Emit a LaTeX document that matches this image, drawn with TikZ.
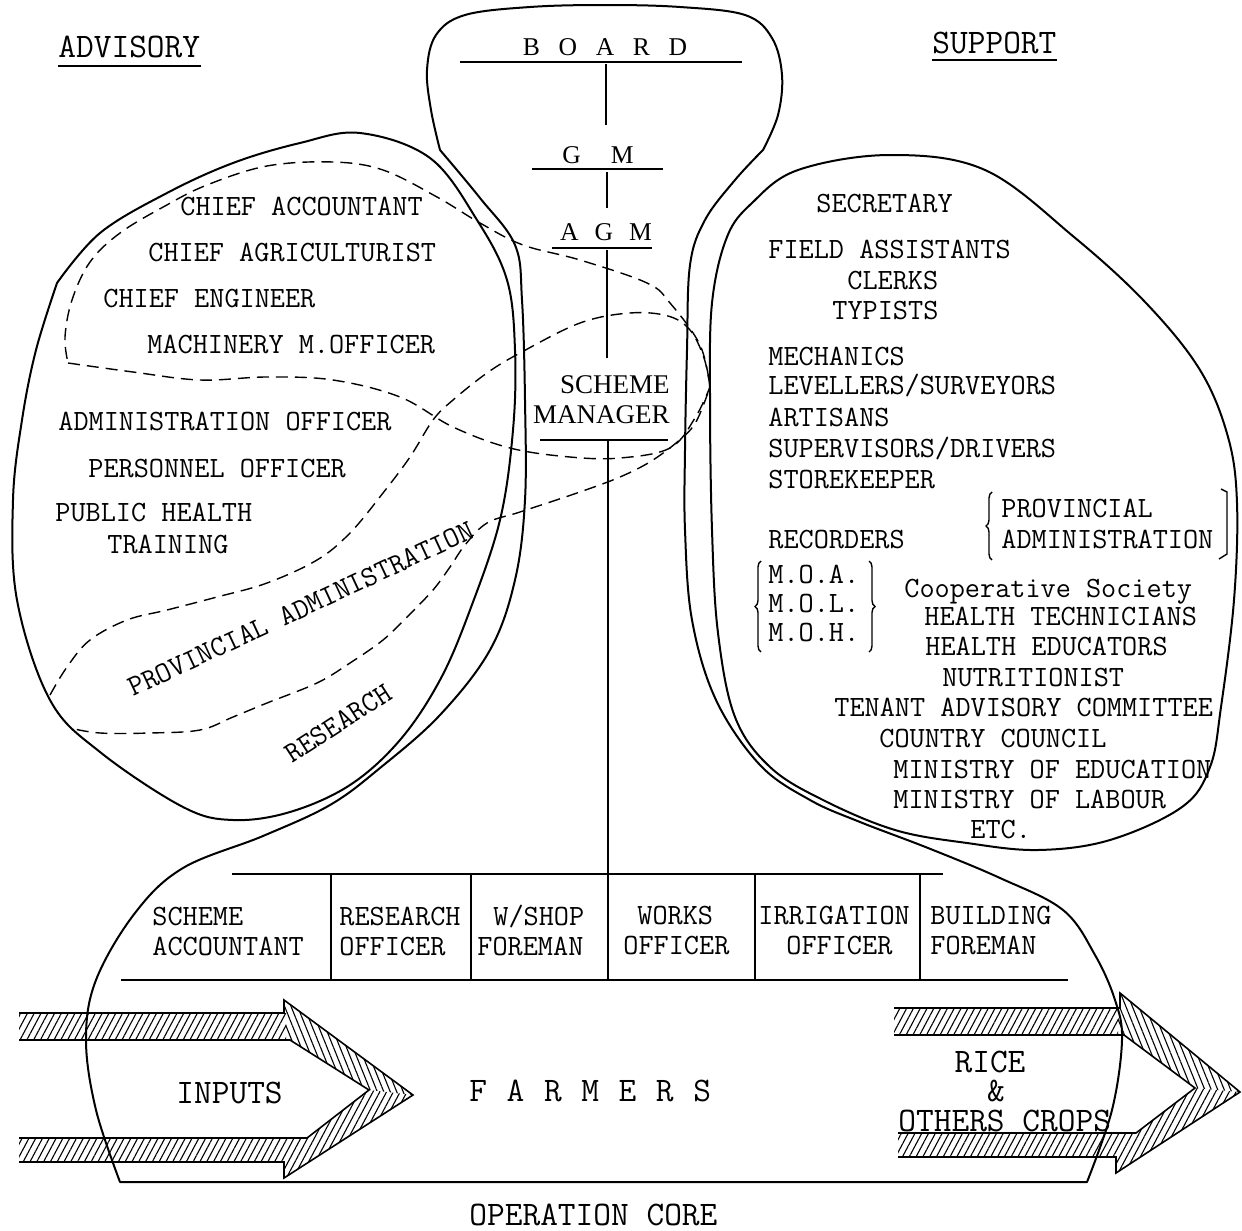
\documentclass[tikz,border=0pt]{standalone}
\usepackage{fontspec}
\usetikzlibrary{patterns.meta,decorations.pathreplacing}
\newfontfamily\srf{Liberation Serif}
\begin{document}
\begin{tikzpicture}[x=0.5pt,y=-0.5pt,
  tx/.style={font=\ttfamily\fontsize{14.7}{17}\selectfont, inner sep=0pt, anchor=base west},
  bigtx/.style={font=\ttfamily\fontsize{17.2}{20}\selectfont, inner sep=0pt, anchor=base west},
  srtx/.style={font=\srf\fontsize{12.8}{15}\selectfont, inner sep=0pt, anchor=base},
  smtx/.style={font=\srf\fontsize{13.5}{16}\selectfont, inner sep=0pt, anchor=base east},
  solidline/.style={line width=1pt, line join=round},
  ruleline/.style={line width=0.8pt},
  dashline/.style={line width=0.7pt, dash pattern=on 6pt off 3.5pt},
  hatchA/.style={pattern={Lines[angle=62,distance=3pt,line width=0.55pt]}},
  hatchB/.style={pattern={Lines[angle=-68,distance=3pt,line width=0.55pt]}},
  brc/.style={decorate, decoration={brace, amplitude=3pt}, line width=0.7pt},
]
\useasboundingbox (0,0) rectangle (1242,1231);

% ---------- hatched arrows (drawn first) ----------
% INPUTS
\path[hatchA] (19,1013) -- (286,1013) -- (286,1040) -- (19,1040) -- cycle;
\path[hatchB] (284,1000) -- (413,1095) -- (369,1090) -- (290,1040) -- (286,1040) -- (286,1013) -- (284,1013) -- cycle;
\path[hatchA] (19,1138) -- (307,1138) -- (369,1090) -- (413,1095) -- (284,1178) -- (284,1162) -- (19,1162) -- cycle;
\draw[ruleline, line join=miter] (19,1013) -- (284,1013) -- (284,1000) -- (413,1095) -- (284,1178) -- (284,1162) -- (19,1162);
\draw[ruleline, line join=miter] (19,1138) -- (307,1138) -- (369,1090) -- (290,1040) -- (19,1040);
% RICE
\path[hatchA] (894,1008) -- (1118,1008) -- (1118,1035) -- (894,1035) -- cycle;
\path[hatchB] (1120,993) -- (1240,1092) -- (1195,1088) -- (1124,1035) -- (1118,1035) -- (1118,1008) -- (1120,1008) -- cycle;
\path[hatchA] (898,1133) -- (1136,1133) -- (1195,1088) -- (1240,1092) -- (1116,1173) -- (1116,1157) -- (898,1157) -- cycle;
\draw[ruleline, line join=miter] (894,1008) -- (1120,1008) -- (1120,993) -- (1240,1092) -- (1116,1173) -- (1116,1157) -- (898,1157);
\draw[ruleline, line join=miter] (898,1133) -- (1136,1133) -- (1195,1088) -- (1124,1035) -- (894,1035);

% ---------- outer organisation outline ----------
\draw[solidline] plot[smooth, tension=0.6] coordinates {(440,150) (431,110) (427,70) (436,35) (465,15) (530,7) (605,5) (680,7) (745,15) (772,38) (782,75) (778,115) (763,150)}
 -- plot[smooth, tension=0.6] coordinates {(763,150) (735,180) (705,220) (690,265) (687,350) (685,450) (685,530) (692,620) (716,700) (760,765) (810,800) (860,822) (928,848) (1000,878) (1063,910) (1095,955) (1115,1000) (1122,1040) (1112,1110) (1087,1182)}
 -- plot[smooth, tension=0.6] coordinates {(120,1182) (96,1110) (86,1040) (96,980) (135,913) (183,868) (263,836) (330,805) (380,768) (440,715) (490,650) (515,580) (525,500) (525,400) (522,300) (515,245) (480,198) (440,150)};

% ---------- advisory (left) and support (right) lobes ----------
\draw[solidline] plot[smooth, tension=0.6] coordinates {(57,283) (100,233) (167,193) (233,163) (300,143) (360,133) (430,158) (477,220) (507,280) (515,350) (513,430) (500,520) (470,610) (440,680) (400,740) (350,785) (290,812) (233,820) (183,807) (100,752) (50,700) (17,600) (13,500) (22,420) (36,350) (57,283)};
\draw[solidline] plot[smooth cycle, tension=0.6] coordinates {(890,155) (985,170) (1074,237) (1146,303) (1200,370) (1228,437) (1237,503) (1234,600) (1221,707) (1210,767) (1182,807) (1110,840) (1038,850) (967,843) (895,830) (823,800) (770,767) (735,717) (718,633) (712,530) (710,400) (712,303) (727,237) (752,203) (798,170)};

% ---------- dashed groupings ----------
\draw[dashline] plot[smooth, tension=0.6] coordinates {(68,363) (133,372) (200,380) (267,377) (333,380) (400,397) (453,427) (510,448) (570,457) (620,458) (670,448) (695,418) (710,387)}
 -- plot[smooth, tension=0.6] coordinates {(710,387) (700,345) (670,303) (647,283) (580,260) (523,245) (480,223) (437,197) (383,170) (333,162) (267,166) (207,185) (165,206) (120,233) (90,262) (72,300) (65,337) (68,363)};
\draw[dashline] plot[smooth, tension=0.6] coordinates {(50,695) (67,667) (90,640) (127,620) (167,610) (217,597) (267,583) (317,560) (350,533) (383,493) (410,457) (433,420) (453,400) (487,373) (520,353) (580,323) (630,313) (668,316) (690,330) (704,358) (710,387)}
 -- plot[smooth, tension=0.6] coordinates {(710,387) (697,420) (683,437) (653,460) (620,477) (577,493) (520,512) (487,523) (465,545) (450,567) (433,590) (407,617) (383,640) (350,663) (317,683) (267,703) (233,717) (200,730) (150,733) (100,733) (70,728)};

% ---------- headings ----------
\node[bigtx] (adv) at (58,57) {ADVISORY};
\draw[ruleline] ([yshift=-4.5pt]adv.base west) -- ([yshift=-4.5pt]adv.base east);
\node[bigtx] (sup) at (932,53) {SUPPORT};
\draw[ruleline] ([yshift=-3.5pt]sup.base west) -- ([yshift=-3.5pt]sup.base east);

% ---------- strategic apex / middle line ----------
\node[srtx] (board) at (605,55) {B\hspace{9.3pt}O\hspace{9.3pt}A\hspace{9.3pt}R\hspace{9.3pt}D};
\coordinate (bl1) at (460,62); \coordinate (bl2) at (742,62);
\draw[ruleline] (bl1) -- (bl2);
\node[srtx] (gm) at (598,163) {G\hspace{15pt}M};
\coordinate (gl1) at (532,169); \coordinate (gl2) at (663,169);
\draw[ruleline] (gl1) -- (gl2);
\node[srtx] (agm) at (606,240) {A\hspace{8pt}G\hspace{8pt}M};
\coordinate (al1) at (552,248); \coordinate (al2) at (652,248);
\draw[ruleline] (al1) -- (al2);
\node[smtx] (sm1) at (670,393) {SCHEME};
\node[smtx] (sm2) at (670,423) {MANAGER};
\coordinate (sl1) at (540,440); \coordinate (sl2) at (668,440);
\draw[ruleline] (sl1) -- (sl2);

\coordinate (c1a) at (606,64); \coordinate (c1b) at (606,125);
\coordinate (c2a) at (607,172); \coordinate (c2b) at (607,208);
\coordinate (c3a) at (607,250); \coordinate (c3b) at (607,358);
\coordinate (c4a) at (608,440); \coordinate (c4b) at (608,980);
\draw[ruleline] (c1a) -- (c1b);
\draw[ruleline] (c2a) -- (c2b);
\draw[ruleline] (c3a) -- (c3b);
\draw[ruleline] (c4a) -- (c4b);

% ---------- units table ----------
\coordinate (t1) at (232,874); \coordinate (t2) at (943,874);
\coordinate (b1) at (121,980); \coordinate (b2) at (1068,980);
\draw[ruleline] (t1) -- (t2);
\draw[ruleline] (b1) -- (b2);
\foreach \xx in {331,471,755,920} \draw[ruleline] (\xx,874) -- (\xx,980);

\node[tx] (u1a) at (152,925) {SCHEME};
\node[tx] (u1b) at (152,955) {ACCOUNTANT};
\node[tx] (u2a) at (339,925) {RESEARCH};
\node[tx] (u2b) at (339,955) {OFFICER};
\node[tx] (u3a) at (493,925) {W/SHOP};
\node[tx] (u3b) at (477,955) {FOREMAN};
\node[tx] (u4a) at (637,924) {WORKS};
\node[tx] (u4b) at (623,954) {OFFICER};
\node[tx] (u5a) at (758,924) {IRRIGATION};
\node[tx] (u5b) at (786,954) {OFFICER};
\node[tx] (u6a) at (930,924) {BUILDING};
\node[tx] (u6b) at (930,954) {FOREMAN};

% ---------- advisory texts ----------
\node[tx] (a1) at (180,215) {CHIEF ACCOUNTANT};
\node[tx] (a2) at (148,261) {CHIEF AGRICULTURIST};
\node[tx] (a3) at (103,307) {CHIEF ENGINEER};
\node[tx] (a4) at (147,353) {MACHINERY M.OFFICER};
\node[tx] (a5) at (58,430) {ADMINISTRATION OFFICER};
\node[tx] (a6) at (88,477) {PERSONNEL OFFICER};
\node[tx] (a7) at (55,521) {PUBLIC HEALTH};
\node[tx] (a8) at (107,553) {TRAINING};
\node[tx, rotate=25] (a9) at (133,697) {PROVINCIAL ADMINISTRATION};
\node[tx, rotate=33] (a10) at (292,764) {RESEARCH};

% ---------- support texts ----------
\node[tx] (s1) at (816,212) {SECRETARY};
\node[tx] (s2) at (768,258) {FIELD ASSISTANTS};
\node[tx] (s3) at (847,289) {CLERKS};
\node[tx] (s4) at (832,319) {TYPISTS};
\node[tx] (s5) at (768,365) {MECHANICS};
\node[tx] (s6) at (768,394) {LEVELLERS/SURVEYORS};
\node[tx] (s7) at (768,426) {ARTISANS};
\node[tx] (s8) at (768,457) {SUPERVISORS/DRIVERS};
\node[tx] (s9) at (768,488) {STOREKEEPER};
\node[tx] (s10) at (768,548) {RECORDERS};
\node[tx] (p1) at (1001,517) {PROVINCIAL};
\node[tx] (p2) at (1001,548) {ADMINISTRATION};
\draw[brc] (992,560) -- (992,492);
\draw[line width=0.7pt] (1221,489) -- (1227,492) -- (1227,554) -- (1219,559);
\node[tx] (m1) at (768,583) {M.O.A.};
\node[tx] (m2) at (768,612) {M.O.L.};
\node[tx] (m3) at (768,641) {M.O.H.};
\draw[brc] (761,652) -- (761,561);
\draw[brc] (869,561) -- (869,652);
\node[tx] (s11) at (904,597) {Cooperative Society};
\node[tx] (s12) at (924,625) {HEALTH TECHNICIANS};
\node[tx] (s13) at (925,655) {HEALTH EDUCATORS};
\node[tx] (s14) at (942,686) {NUTRITIONIST};
\node[tx] (s15) at (834,716) {TENANT ADVISORY COMMITTEE};
\node[tx] (s16) at (879,747) {COUNTRY COUNCIL};
\node[tx] (s17) at (893,778) {MINISTRY OF EDUCATION};
\node[tx] (s18) at (893,808) {MINISTRY OF LABOUR};
\node[tx] (s19) at (970,838) {ETC.};

% ---------- operating core texts ----------
\node[bigtx] (inp) at (176,1103) {INPUTS};
\node[bigtx] (farm) at (469,1101) {F\hspace{9.8pt}A\hspace{9.8pt}R\hspace{9.8pt}M\hspace{9.8pt}E\hspace{9.8pt}R\hspace{9.8pt}S};
\node[bigtx, anchor=base] (rice) at (990,1072) {RICE};
\node[bigtx, anchor=base] (amp) at (996,1101) {\&};
\node[bigtx] (oth) at (898,1131) {OTHERS CROPS};
\node[bigtx] (opc) at (469,1225) {OPERATION CORE};

\end{tikzpicture}
\end{document}
